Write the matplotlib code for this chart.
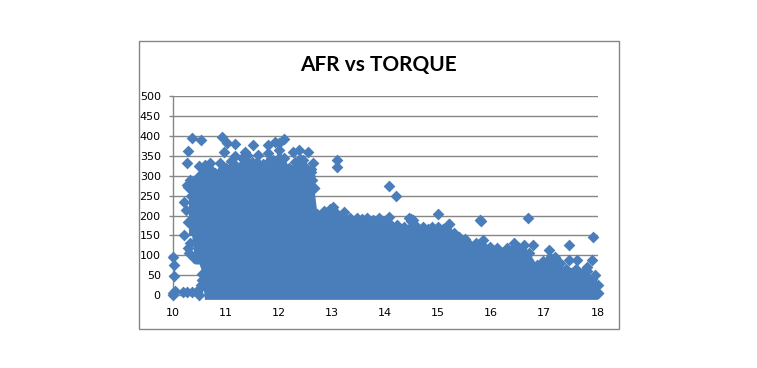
import matplotlib
matplotlib.use('Agg')
import matplotlib.pyplot as plt
from matplotlib.patches import Rectangle

# upper edge of the solid mass of points
top_afr = [10.3, 10.36, 10.42, 10.5, 10.55, 10.6, 10.7, 10.8, 10.9, 11.0, 11.1, 11.2, 11.3, 11.4, 11.5, 11.6, 11.7,
           11.8, 11.9, 12.0, 12.1, 12.2, 12.3, 12.4, 12.5, 12.6, 12.66, 12.72, 12.85, 12.97, 13.03,
           13.1, 13.22, 13.35, 13.47, 13.57, 13.66, 13.78, 13.88, 14.0, 14.1, 14.22, 14.35, 14.49,
           14.6, 14.72, 14.8, 14.88, 15.0, 15.1, 15.21, 15.3, 15.4, 15.5, 15.6, 15.72, 15.84, 15.97,
           16.1, 16.2, 16.3, 16.42, 16.52, 16.62, 16.72, 16.86, 16.97, 17.09, 17.2, 17.3, 17.4, 17.5,
           17.6, 17.7, 17.8, 17.9, 17.96, 18.0]
top_torque = [272, 285, 288, 300, 305, 310, 318, 308, 332, 320, 338, 325, 345, 352, 335, 352, 330,
              358, 340, 365, 345, 320, 335, 342, 322, 318, 270, 205, 212, 216, 222,
              205, 209, 195, 193, 190, 193, 188, 193, 185, 178, 176, 170, 185,
              170, 172, 165, 172, 172, 165, 178, 155, 146, 142, 125, 130, 138, 122,
              118, 105, 118, 130, 118, 125, 105, 75, 85, 113, 95, 80, 65, 55,
              65, 55, 60, 40, 25, 5]

# lower edge of the mass on the left side
low_afr = [10.3, 10.42, 10.52, 10.6]
low_torque = [150, 78, 60, -11]

# points that stand clear of the mass
afr = [10.37, 10.54, 10.94, 11.02, 11.18, 10.30, 10.28, 13.10, 13.10, 11.52, 12.09, 12.0, 11.80, 11.93,
       12.27, 12.39, 12.55, 12.65, 12.46, 11.36, 10.96, 10.49, 10.71, 10.61, 11.18, 12.6, 12.62, 12.66, 12.58,
       14.08, 14.20, 14.08, 14.46, 14.52, 14.49, 14.99, 15.21, 15.81, 15.79, 16.70, 16.78,
       17.47, 17.47, 17.62, 17.89, 17.92, 17.80, 17.96, 18.0, 18.0,
       10.27, 10.33, 10.22, 10.38, 10.29, 10.22, 10.33, 10.29, 10.35, 10.42, 10.25, 10.31, 10.4,
       10.0, 10.03, 10.03, 10.0, 10.0, 10.05, 10.2, 10.28, 10.37, 10.47, 10.5,
       10.56, 10.53, 10.5, 10.55]
torque = [396, 389, 398, 383, 381, 362, 331, 339, 322, 377, 393, 383, 377, 385,
          360, 364, 360, 331, 339, 360, 360, 324, 331, 327, 349, 310, 290, 270, 300,
          274, 249, 197, 193, 188, 190, 205, 178, 186, 188, 195, 125,
          127, 88, 88, 88, 145, 71, 50, 25, 5,
          276, 290, 234, 208, 183, 151, 130, 118, 250, 160, 215, 105, 92,
          95, 75, 48, 5, 0, 10, 8, 8, 8, 8, 0,
          52, 25, 14, 38]

x_ticks = [10, 11, 12, 13, 14, 15, 16, 17, 18]
y_ticks = [0, 50, 100, 150, 200, 250, 300, 350, 400, 450, 500]

blue = '#4A7EBB'
grey = '#868686'

fig = plt.figure(figsize=(7.57, 3.68), dpi=100)
W, H = 757, 368
ax = fig.add_axes([172.5 / W, 1 - 295 / H, 425 / W, 198.7 / H])

# chart frame
fig.patches.append(Rectangle((138.5 / W, 1 - 328.5 / H), 480 / W, 288 / H, transform=fig.transFigure,
                             fill=False, edgecolor=grey, linewidth=1))

fill_low = []
for v in top_afr:
    # last lower edge value read at or before this afr
    k = max(j for j in range(len(low_afr)) if low_afr[j] <= v)
    fill_low.append(low_torque[k])

ax.fill_between(top_afr, fill_low, top_torque, color=blue, linewidth=0, zorder=3, clip_on=False)
ax.scatter(top_afr, top_torque, marker='D', s=36, color=blue, linewidths=0, zorder=3, clip_on=False)
ax.scatter(afr, torque, marker='D', s=36, color=blue, linewidths=0, zorder=3, clip_on=False)

ax.set_xlim(10, 18)
ax.set_ylim(0, 500)
ax.set_xticks(x_ticks)
ax.set_yticks(y_ticks)
ax.yaxis.grid(True, color=grey, linewidth=1)
ax.set_axisbelow(True)
for s in ['top', 'right']:
    ax.spines[s].set_visible(False)
for s in ['left', 'bottom']:
    ax.spines[s].set_color(grey)
    ax.spines[s].set_linewidth(1)
ax.tick_params(axis='y', length=3, width=1, color=grey, pad=5.5, labelsize=8)
ax.tick_params(axis='x', length=0, pad=9, labelsize=8)

fig.text(378 / W, 1 - 65 / H, 'AFR vs TORQUE', ha='center', va='center',
         fontsize=15, fontweight='bold', family='Lato', color='black')

fig.savefig('out.png', dpi=100)
